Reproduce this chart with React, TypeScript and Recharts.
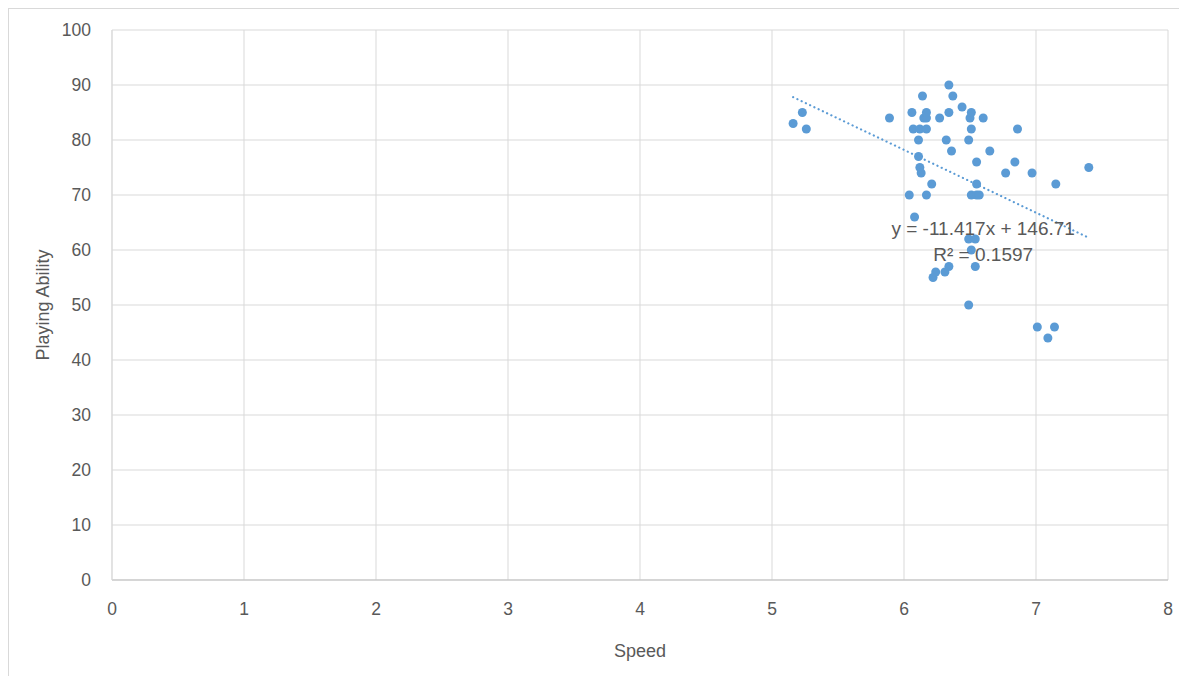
import {
  ScatterChart,
  Scatter,
  XAxis,
  YAxis,
  CartesianGrid,
  ReferenceLine,
  ReferenceDot,
  Label,
} from "recharts";

// speed / playing ability pairs
const speed = [
  5.16, 5.23, 5.26, 5.89, 6.04, 6.06, 6.07, 6.08, 6.11, 6.11, 6.12, 6.12, 6.13, 6.14,
  6.15, 6.17, 6.17, 6.17, 6.17, 6.21, 6.22, 6.24, 6.27, 6.31, 6.32, 6.34, 6.34, 6.34,
  6.36, 6.37, 6.44, 6.49, 6.49, 6.49, 6.5, 6.51, 6.51, 6.51, 6.51, 6.54, 6.54, 6.55,
  6.55, 6.55, 6.57, 6.6, 6.65, 6.77, 6.84, 6.86, 6.97, 7.01, 7.09, 7.14, 7.15, 7.4,
];
const ability = [
  83, 85, 82, 84, 70, 85, 82, 66, 80, 77, 82, 75, 74, 88,
  84, 84, 85, 82, 70, 72, 55, 56, 84, 56, 80, 90, 85, 57,
  78, 88, 86, 80, 62, 50, 84, 85, 82, 70, 60, 62, 57, 76,
  72, 70, 70, 84, 78, 74, 76, 82, 74, 46, 44, 46, 72, 75,
];

const xTicks = [0, 1, 2, 3, 4, 5, 6, 7, 8];
const yTicks = [0, 10, 20, 30, 40, 50, 60, 70, 80, 90, 100];

// linear trendline coefficients
const slope = -11.417;
const intercept = 146.71;
const rSquared = 0.1597;

const points = speed.map((s, i) => ({ speed: s, ability: ability[i] }));
const xMin = Math.min(...speed);
const xMax = Math.max(...speed);
const trend = (x: number) => slope * x + intercept;

const BLUE = "#5B9BD5";
const TEXT = "#595959";
const FONT = "'Liberation Sans', Arial, sans-serif";

export default function App() {
  return (
    <div
      style={{
        width: 1170,
        height: 667,
        borderLeft: "1px solid #d9d9d9",
        borderTop: "1px solid #d9d9d9",
        fontFamily: FONT,
        overflow: "hidden",
      }}
    >
      <ScatterChart
        width={1170}
        height={667}
        margin={{ top: 21, right: 11, left: 0, bottom: 36 }}
      >
        <CartesianGrid stroke="#d9d9d9" strokeWidth={1} />
        <XAxis
          type="number"
          dataKey="speed"
          domain={[0, 8]}
          ticks={xTicks}
          height={60}
          tickLine={false}
          tickSize={0}
          tickMargin={23}
          axisLine={{ stroke: "#bfbfbf" }}
          tick={{ fill: TEXT, fontSize: 17.5, fontFamily: FONT }}
        >
          <Label
            value="Speed"
            position="bottom"
            offset={4}
            fill={TEXT}
            fontSize={18}
            fontFamily={FONT}
          />
        </XAxis>
        <YAxis
          type="number"
          dataKey="ability"
          domain={[0, 100]}
          ticks={yTicks}
          width={103}
          tickLine={false}
          tickSize={0}
          tickMargin={21}
          axisLine={{ stroke: "#d9d9d9" }}
          tick={{ fill: TEXT, fontSize: 17.5, fontFamily: FONT }}
        >
          <Label
            value="Playing Ability"
            angle={-90}
            position="insideLeft"
            offset={34}
            fill={TEXT}
            fontSize={18}
            fontFamily={FONT}
            style={{ textAnchor: "middle" }}
          />
        </YAxis>
        <Scatter
          data={points}
          fill={BLUE}
          isAnimationActive={false}
          shape={(p: any) => <circle cx={p.cx} cy={p.cy} r={4.5} fill={BLUE} />}
        />
        <ReferenceLine
          segment={[
            { x: xMin, y: trend(xMin) },
            { x: xMax, y: trend(xMax) },
          ]}
          stroke={BLUE}
          strokeWidth={2.2}
          strokeDasharray="0.1 4.6"
          strokeLinecap="round"
        />
        <ReferenceDot
          x={6.6}
          y={64}
          r={0}
          label={{
            value: `y = ${slope}x + ${intercept}`,
            position: "center",
            fill: TEXT,
            fontSize: 19,
            fontFamily: FONT,
          }}
        />
        <ReferenceDot
          x={6.6}
          y={59.3}
          r={0}
          label={{
            value: `R² = ${rSquared}`,
            position: "center",
            fill: TEXT,
            fontSize: 19,
            fontFamily: FONT,
          }}
        />
      </ScatterChart>
    </div>
  );
}
